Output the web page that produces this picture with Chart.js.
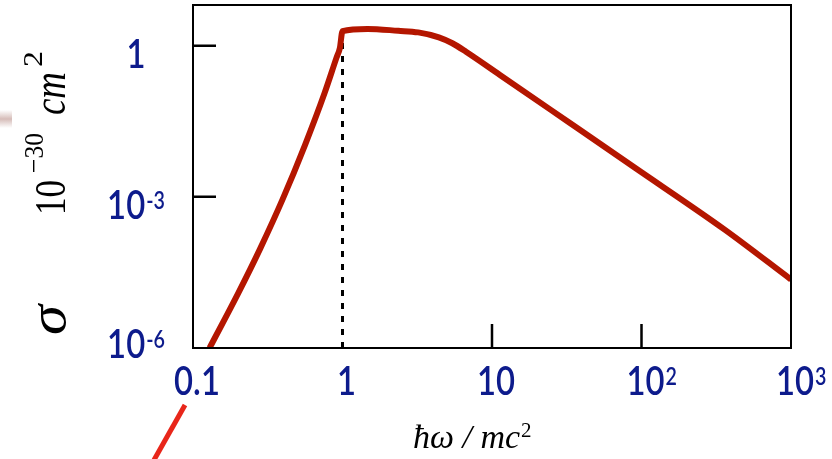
<!DOCTYPE html>
<html>
<head>
<meta charset="utf-8">
<script src="https://cdn.jsdelivr.net/npm/chart.js@4.4.1/dist/chart.umd.min.js"></script>
<style>
  html, body { margin: 0; padding: 0; background: #fff; }
  canvas { display: block; }
</style>
</head>
<body>
<canvas id="chart" width="832" height="459"></canvas>
<script>
// photon energy (in mc^2) and cross-section (in 1e-30 cm^2)
const energy = [0.129, 0.200, 0.282, 0.398, 0.562, 0.759, 0.912, 0.960, 1.0, 1.47, 2.36, 3.21, 4.41, 5.43, 6.70, 11.3, 32.1, 91.4, 360, 1000];
const sigma  = [1e-6, 1.2e-5, 9.5e-5, 9.0e-4, 0.0108, 0.115, 0.581, 0.90, 1.95, 2.16, 1.98, 1.84, 1.47, 1.12, 0.76, 0.263, 0.0313, 0.0037, 2.24e-4, 2.29e-5];

// threshold marker at hw = mc^2
const thresholdX = [1, 1];
const thresholdY = [1e-6, 1.95];

const xTickValues = [0.1, 1, 10, 100, 1000];
const xTickBase   = ['0.1', '1', '10', '10', '10'];
const xTickSup    = ['', '', '', '2', '3'];
const xTickMarks  = [10, 100];

const yTickValues = [1, 1e-3, 1e-6];
const yTickBase   = ['1', '10', '10'];
const yTickSup    = ['', '-3', '-6'];
const yTickMarks  = [1, 1e-3];

const clr = { curve: '#b41600', label: '#0d1b8c', axis: '#000', stray: '#e8261a' };

// ── label helpers ───────────────────────────────────────────────────────────

const SX = 0.82;
const mainFont = '600 40px Lato, "Noto Sans", sans-serif';
const supFont  = '600 24px Lato, "Noto Sans", sans-serif';

function labelWidths(ctx, base, sup) {
  ctx.font = mainFont;
  const wb = ctx.measureText(base).width * SX;
  ctx.font = supFont;
  const ws = sup ? ctx.measureText(sup).width * SX + 1 : 0;
  return [wb, ws];
}

function drawLabel(ctx, base, sup, x0, baseline) {
  const [wb] = labelWidths(ctx, base, sup);
  ctx.save();
  ctx.translate(x0, baseline);
  ctx.scale(SX, 1);
  ctx.fillStyle = clr.label;
  ctx.textBaseline = 'alphabetic';
  ctx.textAlign = 'left';
  ctx.font = mainFont;
  ctx.fillText(base, 0, 0);
  if (sup) {
    ctx.font = supFont;
    ctx.fillText(sup, (wb + 1) / SX, -10);
  }
  ctx.restore();
}

// text squeezed / stretched along its run to a given length
function fitText(ctx, text, font, a0, len, raise) {
  ctx.save();
  ctx.font = font;
  const w = ctx.measureText(text).width;
  ctx.translate(a0, -raise);
  ctx.scale(len / w, 1);
  ctx.fillText(text, 0, 0);
  ctx.restore();
}

// ── decorations ─────────────────────────────────────────────────────────────

const decor = {
  id: 'decor',
  beforeDraw(chart) {
    const ctx = chart.ctx;
    ctx.save();
    ctx.fillStyle = '#fff';
    ctx.fillRect(0, 0, chart.width, chart.height);
    // faint smudge at the left edge
    const g = ctx.createLinearGradient(0, 110, 0, 128);
    g.addColorStop(0, 'rgba(200,170,165,0)');
    g.addColorStop(0.5, 'rgba(200,165,160,0.75)');
    g.addColorStop(1, 'rgba(200,170,165,0)');
    ctx.fillStyle = g;
    ctx.fillRect(0, 110, 12, 18);
    ctx.restore();
  },
  afterDraw(chart) {
    const ctx = chart.ctx;
    const a = chart.chartArea;
    const xs = chart.scales.x, ys = chart.scales.y;
    ctx.save();

    // frame
    ctx.strokeStyle = clr.axis;
    ctx.lineWidth = 2;
    ctx.strokeRect(a.left, a.top, a.right - a.left, a.bottom - a.top);

    // inward tick marks
    ctx.lineWidth = 2.5;
    ctx.beginPath();
    yTickMarks.forEach(v => {
      const p = ys.getPixelForValue(v);
      ctx.moveTo(a.left, p); ctx.lineTo(a.left + 23, p);
    });
    xTickMarks.forEach(v => {
      const p = xs.getPixelForValue(v);
      ctx.moveTo(p, a.bottom); ctx.lineTo(p, a.bottom - 24);
    });
    ctx.stroke();

    // tick labels
    xTickValues.forEach((v, i) => {
      const [wb] = labelWidths(ctx, xTickBase[i], xTickSup[i]);
      const cx = xs.getPixelForValue(v) + 4;
      drawLabel(ctx, xTickBase[i], xTickSup[i], cx - wb / 2, a.bottom + 47);
    });
    yTickValues.forEach((v, i) => {
      const [wb, ws] = labelWidths(ctx, yTickBase[i], yTickSup[i]);
      const base = Math.min(ys.getPixelForValue(v) + 22, a.bottom + 10);
      drawLabel(ctx, yTickBase[i], yTickSup[i], 136 - (wb + ws) / 2, base);
    });

    // y title: sigma  10^-30 cm^2  (rotated, reads bottom to top)
    ctx.save();
    ctx.translate(65, 335);
    ctx.rotate(-Math.PI / 2);
    ctx.fillStyle = '#000';
    ctx.textBaseline = 'alphabetic';
    fitText(ctx, 'σ',   'italic 52px "Liberation Serif", serif', 0,   30, 0);
    fitText(ctx, '10',  '45px "Liberation Serif", serif',        120, 35, 0);
    fitText(ctx, '−30', '28px "Liberation Serif", serif',        162, 40, 22);
    fitText(ctx, 'cm',  'italic 46px "Liberation Serif", serif', 220, 43, 0);
    fitText(ctx, '2',   '28px "Liberation Serif", serif',        268, 16, 23);
    ctx.restore();

    // x title: hw / mc^2
    ctx.fillStyle = '#000';
    ctx.font = 'italic 34px "Liberation Serif", serif';
    ctx.fillText('ħω / mc', 413, 448);
    const w = ctx.measureText('ħω / mc').width;
    ctx.font = '21px "Liberation Serif", serif';
    ctx.fillText('2', 413 + w + 1, 437);

    // stray red stroke below the axis
    ctx.strokeStyle = clr.stray;
    ctx.lineWidth = 5;
    ctx.beginPath();
    ctx.moveTo(185, 405); ctx.lineTo(154, 460);
    ctx.stroke();

    ctx.restore();
  }
};

// ── chart ───────────────────────────────────────────────────────────────────

new Chart(document.getElementById('chart'), {
  type: 'line',
  data: {
    datasets: [
      { data: energy.map((x, i) => ({ x, y: sigma[i] })),
        borderColor: clr.curve, borderWidth: 6, pointRadius: 0,
        cubicInterpolationMode: 'monotone', borderJoinStyle: 'round', fill: false },
      { data: thresholdX.map((x, i) => ({ x, y: thresholdY[i] })),
        borderColor: '#000', borderWidth: 3, borderDash: [6, 7], pointRadius: 0, fill: false }
    ]
  },
  options: {
    responsive: false,
    devicePixelRatio: 1,
    animation: false,
    layout: { padding: { left: 193, right: 41, top: 5, bottom: 111 } },
    plugins: { legend: { display: false }, tooltip: { enabled: false } },
    scales: {
      x: { type: 'logarithmic', min: 0.1, max: 1000, display: false },
      y: { type: 'logarithmic', min: 1e-6, max: 6.44, display: false }
    }
  },
  plugins: [decor]
});
</script>
</body>
</html>
